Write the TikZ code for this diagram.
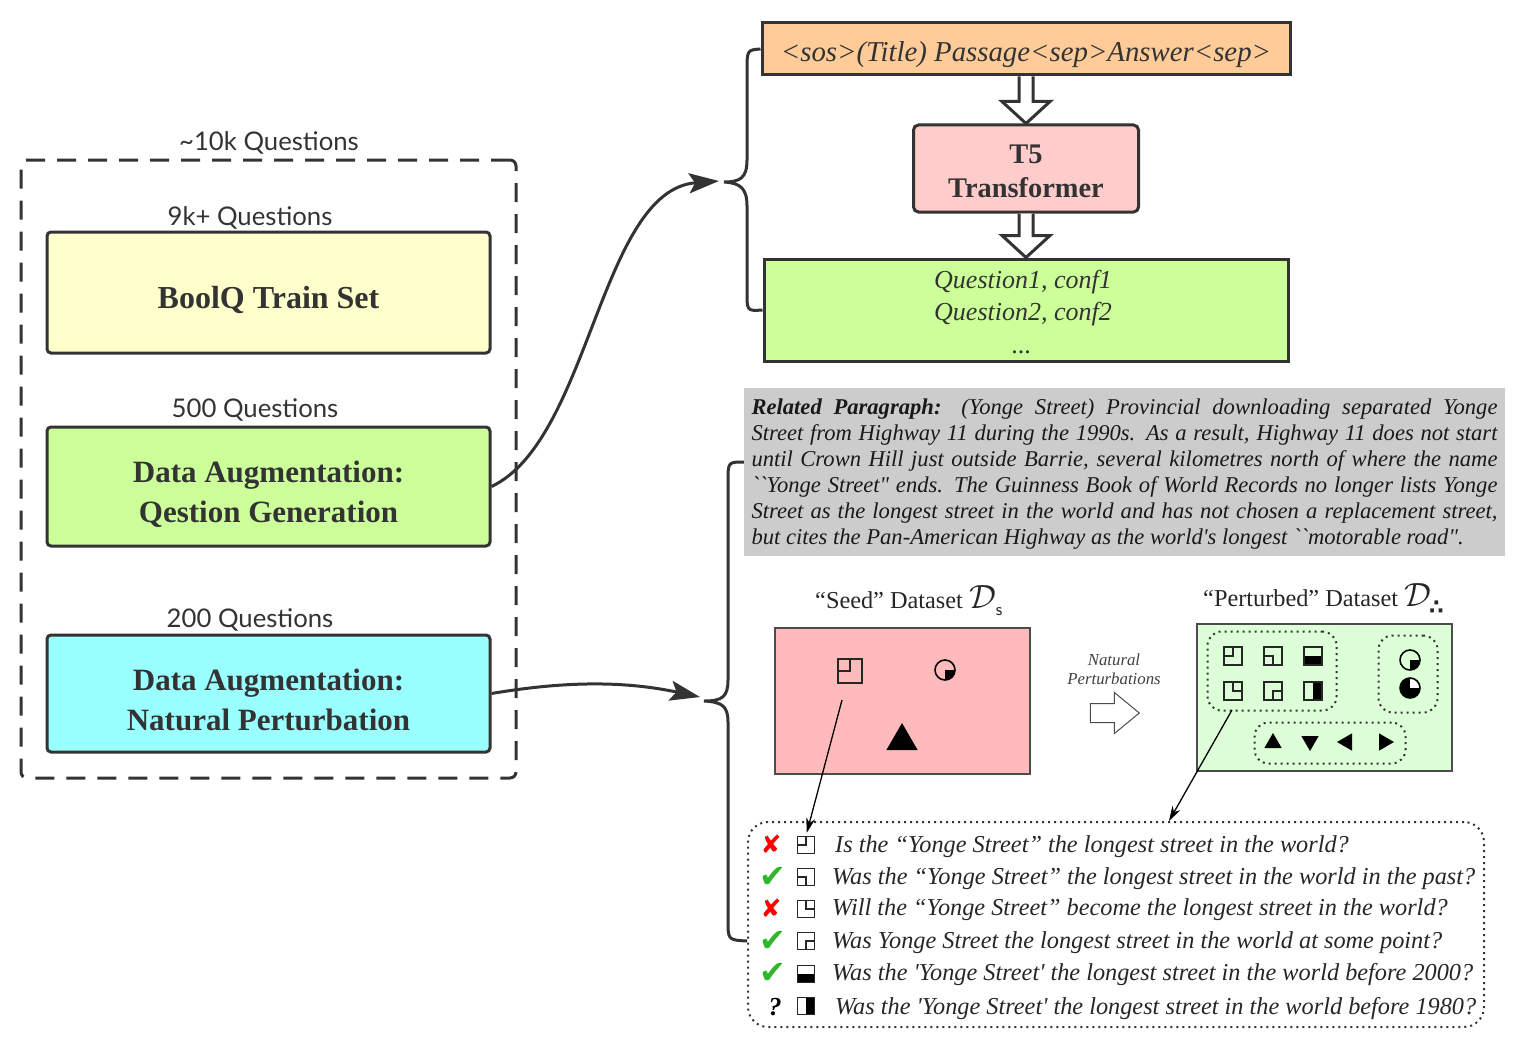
\documentclass[tikz,border=0pt]{standalone}
\usepackage{amsmath,amssymb}
\usepackage{graphicx}
\usepackage{xcolor}
\usepackage{fontspec}
\setmainfont{Liberation Serif}
\newfontfamily\litfont{Liberation Serif}
\newfontfamily\handfont{Lato}
\newfontfamily\markfont{DejaVu Sans}
\usepackage{tikz}
\usetikzlibrary{shapes,arrows,arrows.meta,positioning,fit,calc}

\definecolor{inkgray}{HTML}{333333}
\definecolor{lemon}{HTML}{FFFFCC}
\definecolor{lime}{HTML}{CCFF99}
\definecolor{aqua}{HTML}{99FFFF}
\definecolor{peach}{HTML}{FFCC99}
\definecolor{blush}{HTML}{FFCCCC}
\definecolor{seedred}{HTML}{FFBBBB}
\definecolor{pertgreen}{HTML}{DDFFD8}
\definecolor{paragray}{HTML}{CCCCCC}
\definecolor{okgreen}{HTML}{30B82A}

\newcommand{\lowered}[2]{\raisebox{-#1}[\height][\depth]{#2}}
\newcommand{\hollowdown}[2]{\draw[hollow] ($(#1.south)+(-7,0)$) -- ($(#2.north)+(-7,-22)$) -- ($(#2.north)+(-24,-22)$) -- (#2.north) -- ($(#2.north)+(24,-22)$) -- ($(#2.north)+(7,-22)$) -- ($(#1.south)+(7,0)$);}

\begin{document}
\begin{tikzpicture}[
    x=1pt, y=-1pt,
    qbox/.style={rectangle, draw=inkgray, line width=3pt, rounded corners=4pt, align=center, inner sep=0pt, minimum width=443pt, minimum height=120pt, text=inkgray, font=\fontsize{31}{40}\selectfont\bfseries},
    flat/.style={rectangle, draw=inkgray, line width=3pt, align=center, inner sep=0pt, text=inkgray},
    hand/.style={inner sep=0pt, text=inkgray, font=\fontsize{25.7}{30}\selectfont\handfont},
    title/.style={inner sep=0pt, text=black!85, font=\fontsize{24.3}{28}\selectfont},
    curve/.style={draw=inkgray, line width=3pt, -{Stealth[length=30pt,width=20pt,inset=6pt]}},
    brace/.style={draw=inkgray, line width=3pt},
    hollow/.style={draw=inkgray, line width=3pt, fill=white, line join=miter},
    thinarrow/.style={draw=black, line width=1.3pt, -{Stealth[length=15pt,width=9pt]}},
    icon/.style={rectangle, draw=black!85, line width=1.6pt, inner sep=0pt, minimum size=#1},
    icon/.default=17pt,
    ictl/.style={icon=#1, path picture={\draw[line width=1.6pt] (path picture bounding box.north) -- (path picture bounding box.center) -- (path picture bounding box.west);}},
    icbl/.style={icon=#1, path picture={\draw[line width=1.6pt] (path picture bounding box.south) -- (path picture bounding box.center) -- (path picture bounding box.west);}},
    ictr/.style={icon=#1, path picture={\draw[line width=1.6pt] (path picture bounding box.north) -- (path picture bounding box.center) -- (path picture bounding box.east);}},
    icbr/.style={icon=#1, path picture={\draw[line width=1.6pt] (path picture bounding box.south) -- (path picture bounding box.center) -- (path picture bounding box.east);}},
    ichb/.style={icon=#1, path picture={\fill[black] (path picture bounding box.west) rectangle (path picture bounding box.south east);}},
    ichr/.style={icon=#1, path picture={\fill[black] (path picture bounding box.north) rectangle (path picture bounding box.south east);}},
    ictl/.default=17pt, icbl/.default=17pt, ictr/.default=17pt, icbr/.default=17pt, ichb/.default=17pt, ichr/.default=17pt,
    disc/.style={circle, draw=black, line width=1.6pt, inner sep=0pt, minimum size=20pt},
    discw/.style={disc, path picture={\fill[black] (path picture bounding box.center) rectangle (path picture bounding box.south east);}},
    discb/.style={disc, fill=black, path picture={\fill[white] (path picture bounding box.center) rectangle (path picture bounding box.north east);}},
    tri/.style={regular polygon, regular polygon sides=3, fill=black, inner sep=0pt, minimum size=#1},
    tri/.default=21pt,
    dotbox/.style={rectangle, draw=inkgray, line width=2pt, dash pattern=on 2pt off 4pt, rounded corners=14pt, inner sep=0pt},
    rowtext/.style={anchor=west, inner sep=0pt, text=black!85, font=\fontsize{24.3}{28}\selectfont\litfont\itshape},
    crossmark/.style={inner sep=0pt, text=red, font=\fontsize{25}{28}\selectfont\markfont},
    checkmark/.style={inner sep=0pt, text=okgreen, font=\fontsize{32}{32}\selectfont\markfont}
]
\useasboundingbox (0,0) rectangle (1536,1046);

% Left column
\node[rectangle, draw=inkgray, line width=3pt, dash pattern=on 19pt off 12pt, rounded corners=6pt, minimum width=495pt, minimum height=618pt, inner sep=0pt] (outer) at (268.5,469) {};
\node[hand] (outer_lbl) at (269,143) {\textasciitilde10k Questions};

\node[qbox, fill=lemon, minimum height=121pt, font=\fontsize{32}{40}\selectfont\bfseries] (bool) at (268.5,292.5) {\lowered{7pt}{BoolQ Train Set}};
\node[qbox, fill=lime, below=71pt of bool, minimum height=119pt] (qgen) {\lowered{8pt}{Data Augmentation:}\\\lowered{8pt}{Qestion Generation}};
\node[qbox, fill=aqua, below=86pt of qgen, minimum height=117pt] (pert) {\lowered{6pt}{Data Augmentation:}\\\lowered{6pt}{Natural Perturbation}};

\node[hand] (bool_lbl) at (250,218) {9k+ Questions};
\node[hand] (qgen_lbl) at (255,410) {500 Questions};
\node[hand] (pert_lbl) at (250,620) {200 Questions};

% Generation pipeline
\node[flat, fill=peach, minimum width=528pt, minimum height=52pt, font=\fontsize{28.8}{32}\selectfont\itshape] (sos) at (1026,49) {\lowered{6pt}{<sos>(Title) Passage<sep>Answer<sep>}};
\node[flat, fill=blush, rounded corners=5pt, below=47pt of sos, minimum width=225pt, minimum height=87pt, font=\fontsize{28.4}{34}\selectfont\bfseries] (t5) {\lowered{3pt}{T5}\\\lowered{3pt}{Transformer}};
\node[flat, fill=lime, below=44pt of t5, minimum width=524pt, minimum height=102pt, font=\fontsize{26}{32}\selectfont\itshape] (gen) {\lowered{2pt}{\hspace*{-6pt}Question1, conf1}\\\lowered{2pt}{\hspace*{-6pt}Question2, conf2}\\\lowered{3pt}{\hspace*{-10pt}\textup{...}}};

\hollowdown{sos}{t5}
\hollowdown{t5}{gen}

% Paragraph
\node[rectangle, fill=paragray, inner sep=0pt, minimum width=761pt, minimum height=168pt] (para) at (1124.5,472) {};
\node[inner sep=0pt, text=black!90, text width=746pt, align=justify, font=\fontsize{22.6}{26}\selectfont\litfont\itshape] (para_txt) at (1124.5,474) {\textbf{Related Paragraph:} (Yonge Street) Provincial downloading separated Yonge\linebreak
Street from Highway 11 during the 1990s. As a result, Highway 11 does not start\linebreak
until Crown Hill just outside Barrie, several kilometres north of where the name\linebreak
``Yonge Street" ends. The Guinness Book of World Records no longer lists Yonge\linebreak
Street as the longest street in the world and has not chosen a replacement street,\linebreak
but cites the Pan-American Highway as the world's longest ``motorable road".};

% Datasets
\node[rectangle, draw=black!70, line width=1.5pt, fill=seedred, minimum width=255pt, minimum height=146pt, inner sep=0pt] (seed) at (902.5,701) {};
\node[rectangle, draw=black!70, line width=1.5pt, fill=pertgreen, minimum width=255pt, minimum height=147pt, inner sep=0pt] (perturbed) at (1324.5,697.5) {};
\node[title, anchor=west] (seed_lbl) at (815,597) {“Seed” Dataset \scalebox{1.35}{$\mathcal{D}$}\lowered{7pt}{\fontsize{18}{18}\selectfont\sffamily s}};
\node[title, anchor=west] (pert_ds_lbl) at (1203,595) {“Perturbed” Dataset \scalebox{1.35}{$\mathcal{D}$}\hspace{-2pt}\lowered{8pt}{\fontsize{21}{21}\selectfont\markfont\bfseries ∴}};

\node[ictl=24pt, line width=2.4pt] (seed_sq) at (850,671) {};
\node[discw] (seed_disc) at (945,670) {};
\node[tri=36pt] (seed_tri) at (902,741) {};

\node[dotbox, minimum width=129pt, minimum height=79pt] (grp_sq) at (1272,671) {};
\node[dotbox, minimum width=59pt, minimum height=77pt] (grp_disc) at (1408,674) {};
\node[dotbox, minimum width=151pt, minimum height=41pt] (grp_tri) at (1330,743) {};

\node[ictl=18pt] (p1) at (1233,656) {};
\node[icbl=18pt] (p2) at (1273,656) {};
\node[ichb=18pt] (p3) at (1313,656) {};
\node[ictr=18pt] (p4) at (1233,691) {};
\node[icbr=18pt] (p5) at (1273,691) {};
\node[ichr=18pt] (p6) at (1313,691) {};
\node[discw] (d1) at (1410,660) {};
\node[discb] (d2) at (1410,688) {};
\node[tri=20pt] (t1) at (1273,743) {};
\node[tri=20pt, shape border rotate=180] (t2) at (1310,741) {};
\node[tri=20pt, shape border rotate=90] (t3) at (1347,742) {};
\node[tri=20pt, shape border rotate=-90] (t4) at (1384,742) {};

\node[inner sep=0pt, align=center, text=black!75, font=\fontsize{16.8}{19}\selectfont\itshape] (nat_lbl) at (1114,669) {Natural\\Perturbations};
\node[single arrow, draw=black!70, line width=1pt, fill=white, inner xsep=0pt, inner ysep=9pt, minimum height=49pt, minimum width=41pt, single arrow head extend=11pt, single arrow tip angle=79] (nat_arrow) at (1109,713) {};

% Question list
\node[dotbox, rounded corners=20pt, minimum width=736pt, minimum height=205pt] (list) at (1116,924.5) {};

\node[crossmark] (m1) at (771,844) {\char"2718};
\node[checkmark] (m2) at (773,877) {\char"2714};
\node[crossmark] (m3) at (771,908) {\char"2718};
\node[checkmark] (m4) at (773,941) {\char"2714};
\node[checkmark] (m5) at (773,973) {\char"2714};
\node[inner sep=0pt, text=black, font=\fontsize{26}{28}\selectfont\itshape\bfseries] (m6) at (775,1007) {?};

\node[ictl] (i1) at (806,845) {};
\node[icbl] (i2) at (806,877) {};
\node[ictr] (i3) at (806,909) {};
\node[icbr] (i4) at (806,941) {};
\node[ichb] (i5) at (806,974) {};
\node[ichr] (i6) at (806,1006) {};

\node[rowtext] (q1) at (835,847) {Is the “Yonge Street” the longest street in the world?};
\node[rowtext] (q2) at (832,879) {Was the “Yonge Street” the longest street in the world in the past?};
\node[rowtext] (q3) at (832,910) {Will the “Yonge Street” become the longest street in the world?};
\node[rowtext] (q4) at (832,943) {Was Yonge Street the longest street in the world at some point?};
\node[rowtext] (q5) at (832,975) {Was the 'Yonge Street' the longest street in the world before 2000?};
\node[rowtext] (q6) at (835,1009) {Was the 'Yonge Street' the longest street in the world before 1980?};

% Edges
\coordinate (up_tip) at (719,181);
\coordinate (up_mid) at (724,182);
\coordinate (low_tip) at (700,697);
\coordinate (low_mid) at (704,701);

\draw[curve] (qgen.east) .. controls (590,440) and (600,190) .. (up_tip);
\draw[curve] (pert.east) .. controls (560,682) and (620,680) .. (low_tip);

\draw[brace] (sos.west) .. controls (747,50) .. (747,72) -- (747,160) .. controls (747,178) and (740,182) .. (up_mid) .. controls (740,183) and (747,188) .. (747,206) -- (747,292) .. controls (747,311) .. (gen.west);
\draw[brace] (para.west |- 0,462) .. controls (728,462) .. (728,482) -- (728,680) .. controls (728,697) and (722,701) .. (low_mid) .. controls (722,702) and (728,706) .. (728,722) -- (728,920) .. controls (728,940) .. (list.west |- 0,941);

\coordinate (seed_from) at (842,700);
\coordinate (pert_from) at (1232,710);
\coordinate (list_top) at (1169,821);
\draw[thinarrow, shorten >=3pt] (seed_from) -- (i1.north);
\draw[thinarrow] (pert_from) -- (list_top);

\end{tikzpicture}
\end{document}
